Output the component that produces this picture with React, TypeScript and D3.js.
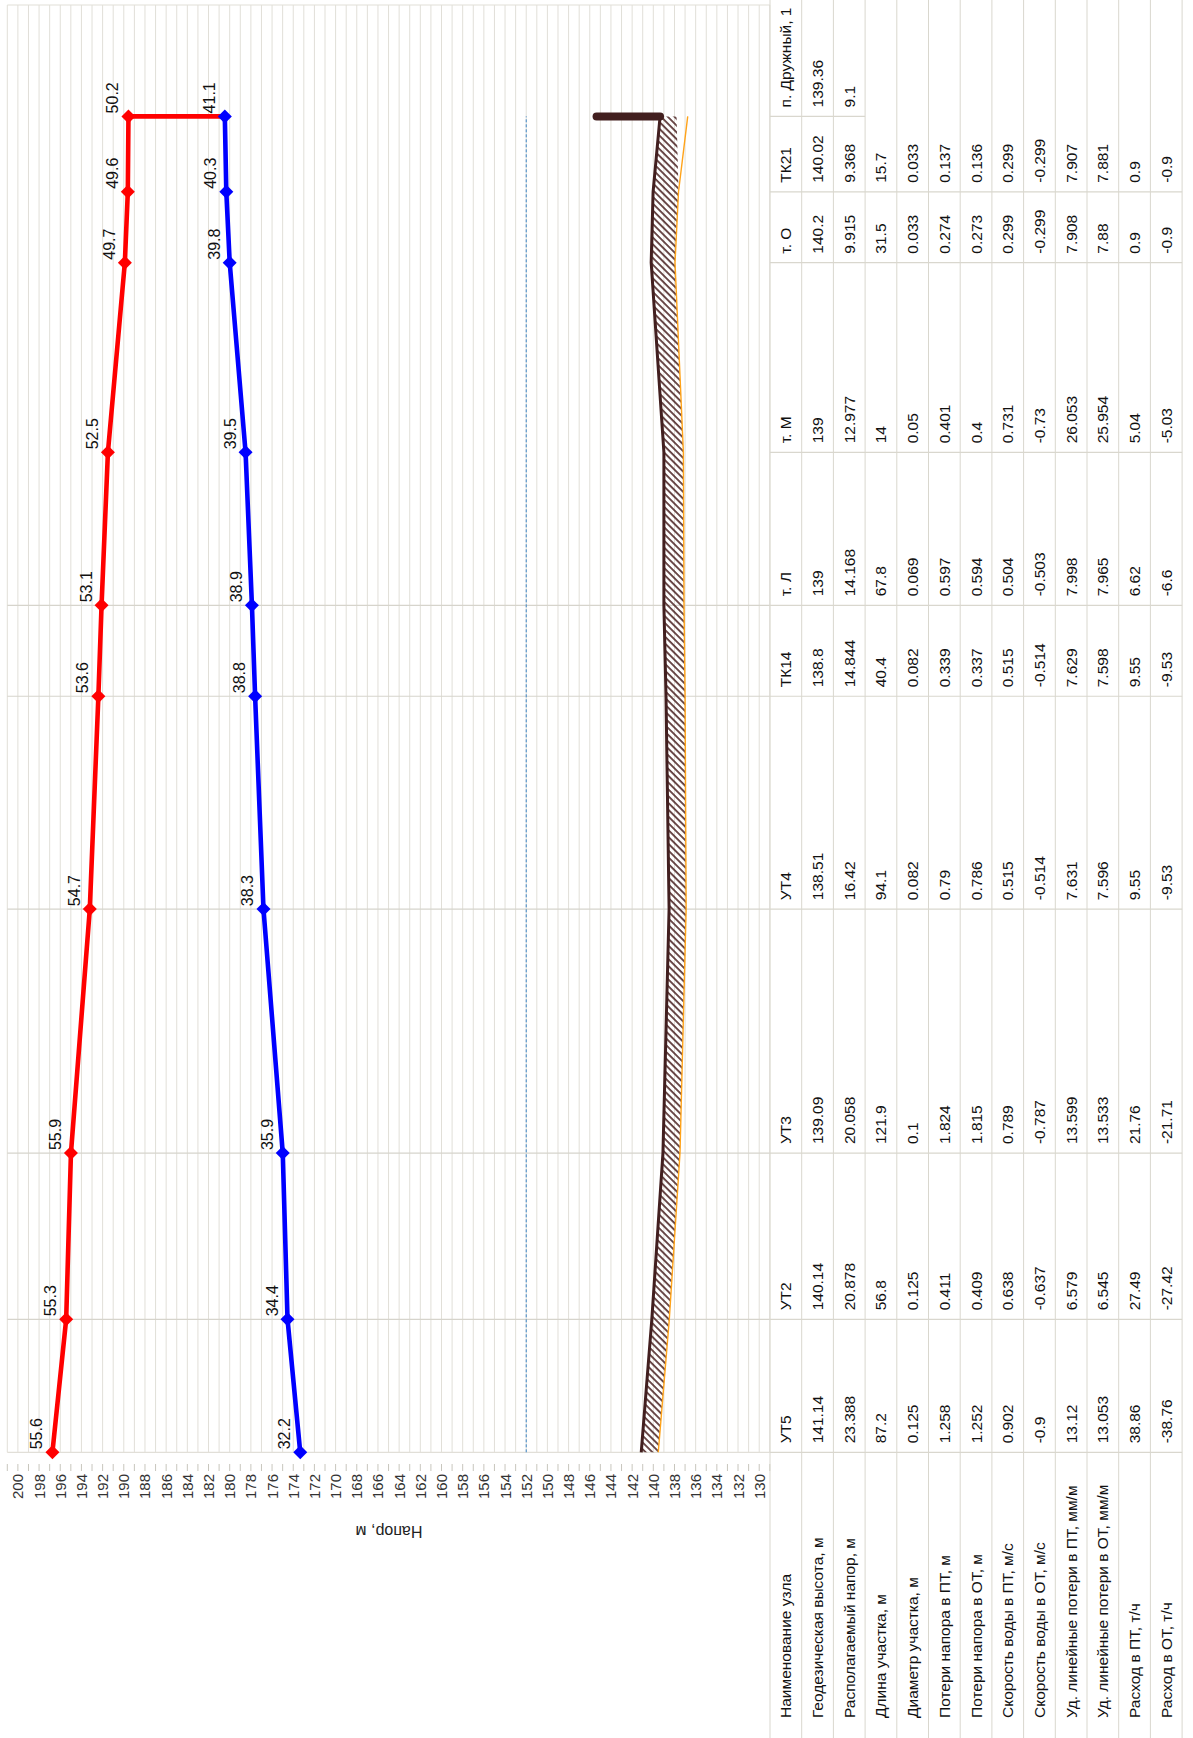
import React from "react";
import * as d3 from "d3";

// Piezometric graph of the heating network section, drawn in its natural
// orientation inside a group that is turned a quarter turn counter-clockwise.

const nodes = ["УТ5", "УТ2", "УТ3", "УТ4", "ТК14", "т. Л", "т. М", "т. О", "ТК21", "п. Дружный, 1"];
const chainage = [0, 59.1, 133.0, 241.4, 336.0, 376.4, 444.4, 528.7, 560.2, 593.7];
const groundLevel = [141.14, 140.14, 139.09, 138.51, 138.8, 139, 139, 140.2, 140.02, 139.36];
const supplyPressure = [55.6, 55.3, 55.9, 54.7, 53.6, 53.1, 52.5, 49.7, 49.6, 50.2];
const returnPressure = [32.2, 34.4, 35.9, 38.3, 38.8, 38.9, 39.5, 39.8, 40.3, 41.1];
const trenchBottom = [139.53, 138.49, 137.48, 136.9, 137.0, 137.1, 137.16, 137.95, 137.62, 137.8];
const pipeLevel = [139.53, 138.49, 137.48, 136.9, 137.0, 137.1, 137.16, 137.95, 137.62, 136.75];
const staticHead = 152;
const consumerHeight = 6;
const dividerNodes = ["УТ2", "УТ3", "УТ4", "ТК14", "т. Л"];
const headTicks = d3.range(130, 201, 2);
const headMinorTicks = d3.range(129, 202, 1);

const rowLabels = [
  "Наименование узла",
  "Геодезическая высота, м",
  "Располагаемый напор, м",
  "Длина участка, м",
  "Диаметр участка, м",
  "Потери напора в ПТ, м",
  "Потери напора в ОТ, м",
  "Скорость воды в ПТ, м/с",
  "Скорость воды в ОТ, м/с",
  "Уд. линейные потери в ПТ, мм/м",
  "Уд. линейные потери в ОТ, мм/м",
  "Расход в ПТ, т/ч",
  "Расход в ОТ, т/ч",
];
const availableHead = ["23.388", "20.878", "20.058", "16.42", "14.844", "14.168", "12.977", "9.915", "9.368", "9.1"];
const sectionLength = ["87.2", "56.8", "121.9", "94.1", "40.4", "67.8", "14", "31.5", "15.7"];
const sectionDiameter = ["0.125", "0.125", "0.1", "0.082", "0.082", "0.069", "0.05", "0.033", "0.033"];
const lossSupply = ["1.258", "0.411", "1.824", "0.79", "0.339", "0.597", "0.401", "0.274", "0.137"];
const lossReturn = ["1.252", "0.409", "1.815", "0.786", "0.337", "0.594", "0.4", "0.273", "0.136"];
const velocitySupply = ["0.902", "0.638", "0.789", "0.515", "0.515", "0.504", "0.731", "0.299", "0.299"];
const velocityReturn = ["-0.9", "-0.637", "-0.787", "-0.514", "-0.514", "-0.503", "-0.73", "-0.299", "-0.299"];
const specLossSupply = ["13.12", "6.579", "13.599", "7.631", "7.629", "7.998", "26.053", "7.908", "7.907"];
const specLossReturn = ["13.053", "6.545", "13.533", "7.596", "7.598", "7.965", "25.954", "7.88", "7.881"];
const flowSupply = ["38.86", "27.49", "21.76", "9.55", "9.55", "6.62", "5.04", "0.9", "0.9"];
const flowReturn = ["-38.76", "-27.42", "-21.71", "-9.53", "-9.53", "-6.6", "-5.03", "-0.9", "-0.9"];

const W = 1193;
const H = 1738;
const FONT = "'Liberation Sans', Arial, sans-serif";

export default function App() {
  // along = distance axis (runs upward on the page), across = head axis
  const headScale = d3.scaleLinear().domain([201, 129]).range([7.3, 769.8]);
  const distScale = d3.scaleLinear().domain([0, 593.7]).range([285.7, 1621.6]);
  const plotStart = distScale(0);
  const plotEnd = 1733;

  const supplyHead = groundLevel.map((g, i) => g + supplyPressure[i]);
  const returnHead = groundLevel.map((g, i) => g + returnPressure[i]);

  const line = d3
    .line<number>()
    .x((_, i) => distScale(chainage[i]))
    .y((d) => headScale(d));
  const hatchArea = d3
    .area<number>()
    .x((_, i) => distScale(chainage[i]))
    .y0((_, i) => headScale(trenchBottom[i]))
    .y1((d) => headScale(d));

  const last = nodes.length - 1;
  const uLast = distScale(chainage[last]);

  const tableTop = 770;
  const rowH = 31.7;
  const tableBottom = tableTop + rowH * rowLabels.length;

  const tableRows: string[][] = [
    nodes,
    groundLevel.map((g) => String(g)),
    availableHead,
    sectionLength,
    sectionDiameter,
    lossSupply,
    lossReturn,
    velocitySupply,
    velocityReturn,
    specLossSupply,
    specLossReturn,
    flowSupply,
    flowReturn,
  ];

  const diamond = "M0,-7L7,0L0,7L-7,0Z";
  const gridColor = "#e1dfd8";
  const tableLine = "#d9d7ce";

  return (
    <svg
      width={W}
      height={H}
      style={{ position: "absolute", left: 0, top: 0, background: "#fff" }}
      fontFamily={FONT}
    >
      <defs>
        <pattern
          id="hatch"
          width="4.8"
          height="4.8"
          patternUnits="userSpaceOnUse"
          patternTransform="rotate(45)"
        >
          <line x1="1" y1="0" x2="1" y2="4.8" stroke="#4a2222" strokeWidth="1.6" />
        </pattern>
      </defs>
      <g transform={`translate(0,${H}) rotate(-90)`}>
        {/* head gridlines, one per metre */}
        {headMinorTicks.map((t) => (
          <line
            key={"g" + t}
            x1={plotStart}
            x2={plotEnd}
            y1={headScale(t)}
            y2={headScale(t)}
            stroke={gridColor}
            strokeWidth={1}
          />
        ))}
        {/* axis ticks */}
        {headMinorTicks.map((t) => (
          <line
            key={"t" + t}
            x1={267}
            x2={274}
            y1={headScale(t)}
            y2={headScale(t)}
            stroke="#c8c6bd"
            strokeWidth={1}
          />
        ))}
        {/* plot frame edges */}
        <line x1={plotStart} x2={plotStart} y1={headScale(201)} y2={headScale(129)} stroke={gridColor} strokeWidth={1.2} />
        <line x1={plotEnd} x2={plotEnd} y1={headScale(201)} y2={headScale(129)} stroke={gridColor} strokeWidth={1.2} />
        {/* node dividers */}
        {dividerNodes.map((n) => {
          const u = distScale(chainage[nodes.indexOf(n)]);
          return (
            <line key={"d" + n} x1={u} x2={u} y1={headScale(201)} y2={headScale(129)} stroke="#d6d4cc" strokeWidth={1.2} />
          );
        })}
        {/* tick labels */}
        {headTicks.map((t) => (
          <text
            key={"l" + t}
            x={264}
            y={headScale(t)}
            textAnchor="end"
            dominantBaseline="central"
            fontSize={15}
            fill="#333"
          >
            {t}
          </text>
        ))}
        <text
          transform={`translate(207,389) rotate(-90)`}
          textAnchor="middle"
          dominantBaseline="central"
          fontSize={16}
          fill="#222"
        >
          Напор, м
        </text>

        {/* static head */}
        <line
          x1={distScale(chainage[0])}
          x2={uLast}
          y1={headScale(staticHead)}
          y2={headScale(staticHead)}
          stroke="#3d85c6"
          strokeWidth={1}
          strokeDasharray="3,2"
        />

        {/* ground with pipe trench */}
        <path d={hatchArea(groundLevel) || ""} fill="url(#hatch)" />
        <path d={line(pipeLevel) || ""} fill="none" stroke="#ffa31a" strokeWidth={1.4} />
        <path d={line(groundLevel) || ""} fill="none" stroke="#421f1f" strokeWidth={3} strokeLinejoin="round" />
        <line
          x1={uLast}
          x2={uLast}
          y1={headScale(groundLevel[last])}
          y2={headScale(groundLevel[last] + consumerHeight)}
          stroke="#421f1f"
          strokeWidth={8}
          strokeLinecap="round"
        />

        {/* supply and return heads */}
        <path d={line(supplyHead) || ""} fill="none" stroke="#ff0000" strokeWidth={4.6} strokeLinejoin="round" />
        <line
          x1={uLast}
          x2={uLast}
          y1={headScale(supplyHead[last])}
          y2={headScale(returnHead[last])}
          stroke="#ff0000"
          strokeWidth={4.6}
        />
        <path d={line(returnHead) || ""} fill="none" stroke="#0000ff" strokeWidth={4.6} strokeLinejoin="round" />
        {supplyHead.map((h, i) => (
          <path key={"sm" + i} d={diamond} transform={`translate(${distScale(chainage[i])},${headScale(h)})`} fill="#ff0000" />
        ))}
        {returnHead.map((h, i) => (
          <path key={"rm" + i} d={diamond} transform={`translate(${distScale(chainage[i])},${headScale(h)})`} fill="#0000ff" />
        ))}
        {supplyHead.map((h, i) => (
          <text key={"sl" + i} x={distScale(chainage[i]) + 3} y={headScale(h) - 10} fontSize={16} fill="#111">
            {supplyPressure[i].toFixed(1)}
          </text>
        ))}
        {returnHead.map((h, i) => (
          <text key={"rl" + i} x={distScale(chainage[i]) + 3} y={headScale(h) - 10} fontSize={16} fill="#111">
            {returnPressure[i].toFixed(1)}
          </text>
        ))}

        {/* data table */}
        {d3.range(rowLabels.length + 1).map((k) => (
          <line
            key={"rs" + k}
            x1={0}
            x2={H}
            y1={tableTop + rowH * k}
            y2={tableTop + rowH * k}
            stroke={tableLine}
            strokeWidth={1}
          />
        ))}
        {chainage.map((c, i) => {
          const u = distScale(c);
          const filledRows = tableRows.filter((r) => r[i] !== undefined).length;
          return (
            <line
              key={"cb" + i}
              x1={u}
              x2={u}
              y1={tableTop}
              y2={i === last ? tableTop + rowH * filledRows : tableBottom}
              stroke={tableLine}
              strokeWidth={1.2}
            />
          );
        })}
        {rowLabels.map((r, k) => (
          <text
            key={"rl" + k}
            x={20}
            y={tableTop + rowH * (k + 0.5)}
            dominantBaseline="central"
            fontSize={15.5}
            fill="#111"
          >
            {r}
          </text>
        ))}
        {tableRows.map((row, k) =>
          row.map((v, i) => (
            <text
              key={`c${k}-${i}`}
              x={distScale(chainage[i]) + 9}
              y={tableTop + rowH * (k + 0.5)}
              dominantBaseline="central"
              fontSize={15.5}
              fill="#111"
            >
              {v}
            </text>
          ))
        )}
      </g>
    </svg>
  );
}
